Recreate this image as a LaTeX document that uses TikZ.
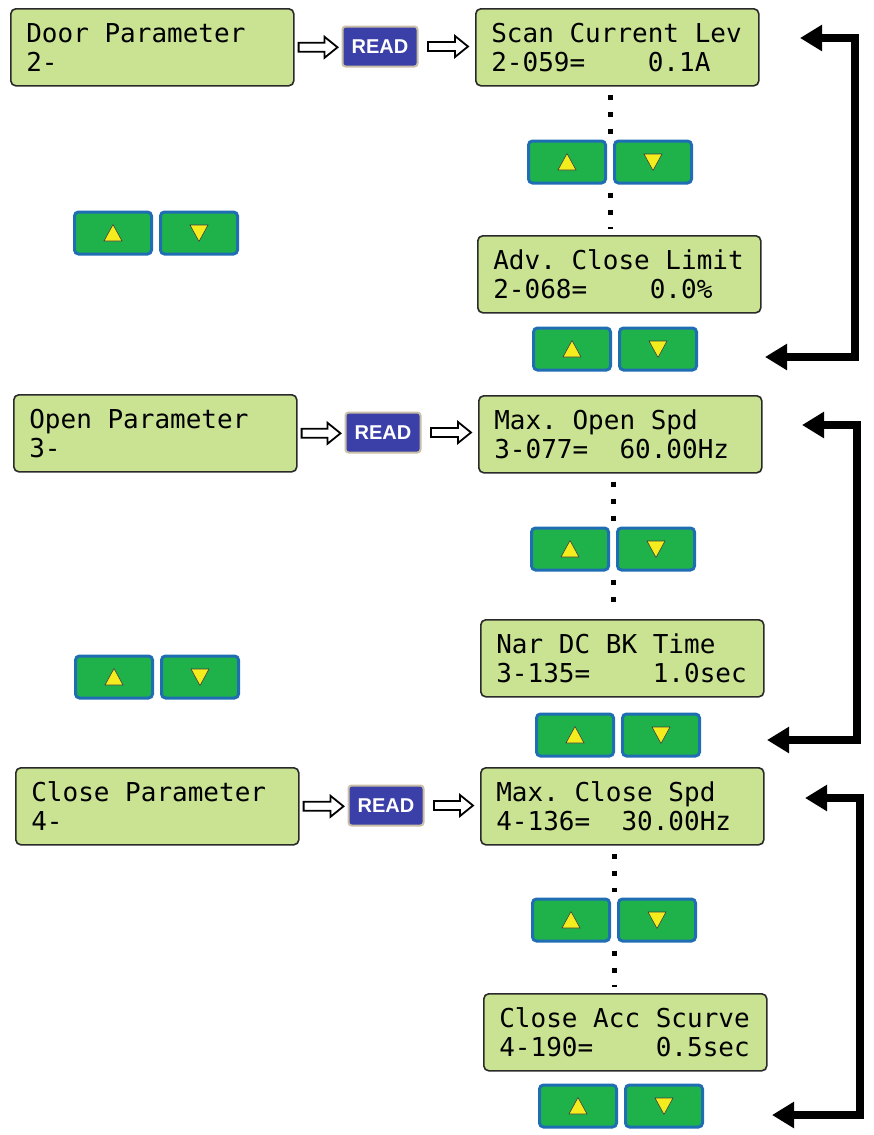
\documentclass[tikz,border=0pt]{standalone}
\usepackage{fontspec}
\usetikzlibrary{arrows.meta,calc}
\newfontfamily\lcdfont{DejaVu Sans Mono}
\newfontfamily\btnfont{Liberation Sans}
\newcommand\blank{\hphantom{0}}% one full LCD cell
\definecolor{lcdgreen}{HTML}{C9E393}
\definecolor{lcdrim}{HTML}{2A2A2A}
\definecolor{keygreen}{HTML}{1FB24B}
\definecolor{keyblue}{HTML}{1F6DB3}
\definecolor{readblue}{HTML}{3B3FA8}
\definecolor{readrim}{HTML}{C9BFA6}
\definecolor{tri}{HTML}{F5EC1E}
\tikzset{
  lcd/.style={draw=lcdrim,line width=1.6pt,fill=lcdgreen,rounded corners=5pt,
    minimum width=283pt,minimum height=77pt,text width=252pt,align=left,
    inner sep=0pt,anchor=north west,
    font=\lcdfont\fontsize{26}{29}\selectfont},
  readbtn/.style={draw=readrim,line width=2pt,fill=readblue,rounded corners=3pt,
    minimum width=75pt,minimum height=40pt,text=white,
    font=\btnfont\bfseries\fontsize{20}{20}\selectfont},
  key/.style={draw=keyblue,line width=3pt,fill=keygreen,rounded corners=4pt,
    minimum width=77pt,minimum height=42pt,inner sep=0pt},
  keyup/.style={key,path picture={\filldraw[sharp corners,fill=tri,draw=black!75,line width=0.6pt]
    ([shift={(-9pt,-8pt)}]path picture bounding box.center) -- ++(18pt,0pt) -- ++(-9pt,16.5pt) -- cycle;}},
  keydown/.style={key,path picture={\filldraw[sharp corners,fill=tri,draw=black!75,line width=0.6pt]
    ([shift={(-9pt,8pt)}]path picture bounding box.center) -- ++(18pt,0pt) -- ++(-9pt,-16.5pt) -- cycle;}},
  % outlined block arrow between two nodes, #1/#2 = gap at start/end
  hollow/.style 2 args={draw=black,fill=white,line width=1.8pt,line join=miter,
    to path={($(\tikztostart)+(#1,4.5pt)$)
      -- ($(\tikztotarget |- \tikztostart)+(-#2-13pt,4.5pt)$)
      -- ($(\tikztotarget |- \tikztostart)+(-#2-13pt,10.5pt)$)
      -- ($(\tikztotarget |- \tikztostart)+(-#2,0pt)$)
      -- ($(\tikztotarget |- \tikztostart)+(-#2-13pt,-10.5pt)$)
      -- ($(\tikztotarget |- \tikztostart)+(-#2-13pt,-4.5pt)$)
      -- ($(\tikztostart)+(#1,-4.5pt)$) -- cycle}},
  dots/.style={line width=5pt,dash pattern=on 5pt off 12pt,shorten <=8pt,shorten >=6pt},
  back/.style={line width=7.5pt,line join=miter,
    {Triangle[length=22pt,width=25pt]}-{Triangle[length=22pt,width=25pt]}}
}
\begin{document}
\begin{tikzpicture}[x=1pt,y=-1pt]
\useasboundingbox (0,0) rectangle (874,1135);

% door parameters
\node[lcd] (door) at (10,8) {Door\blank Parameter\\2-};
\node[readbtn] (read1) at (380,46.5) {READ};
\node[lcd] (scan) at (475,8) {Scan\blank Current\blank Lev\\2-059=\blank\blank\blank\blank 0.1A};
\node[lcd] (adv) at (477,235) {Adv.\blank Close\blank Limit\\2-068=\blank\blank\blank\blank 0.0\%};

% open parameters
\node[lcd] (open) at (13,394) {Open\blank Parameter\\3-};
\node[readbtn] (read2) at (383,432.5) {READ};
\node[lcd] (maxopen) at (478,395) {Max.\blank Open\blank Spd\\3-077=\blank\blank 60.00Hz};
\node[lcd] (nardc) at (480,619) {Nar\blank DC\blank BK\blank Time\\3-135=\blank\blank\blank\blank 1.0sec};

% close parameters
\node[lcd] (close) at (15,767) {Close\blank Parameter\\4-};
\node[readbtn] (read3) at (386,805.5) {READ};
\node[lcd] (maxclose) at (480,767) {Max.\blank Close\blank Spd\\4-136=\blank\blank 30.00Hz};
\node[lcd] (accs) at (483,993) {Close\blank Acc\blank Scurve\\4-190=\blank\blank\blank\blank 0.5sec};

% up/down keys
\foreach \n/\x/\y in {k1/567/162,k2/572/349,k3/113/233,
                      k4/570/549,k5/575/735,k6/114/677,
                      k7/571/920,k8/578/1106} {
  \node[keyup] (\n-up) at (\x,\y) {};
  \node[keydown] (\n-dn) at (\x+86,\y) {};
}

\draw[hollow={4pt}{4pt}] (door.east) to (read1.west);
\draw[hollow={9.5pt}{7pt}] (read1.east) to (scan.west);
\draw[hollow={4pt}{4pt}] (open.east) to (read2.west);
\draw[hollow={9.5pt}{7pt}] (read2.east) to (maxopen.west);
\draw[hollow={4pt}{4pt}] (close.east) to (read3.west);
\draw[hollow={9.5pt}{7pt}] (read3.east) to (maxclose.west);

% scrolling through the list
\foreach \k/\a/\b in {k1/scan/adv,k4/maxopen/nardc,k7/maxclose/accs} {
  \coordinate (\k-gap) at ($(\k-up.east)!0.5!(\k-dn.west)$);
  \draw[dots] (\k-gap |- \a.south) -- (\k-gap |- \k-up.north);
  \draw[dots] (\k-gap |- \k-up.south) -- (\k-gap |- \b.north);
}

% back to the first item
\coordinate (ret1a) at (800,38);  \coordinate (ret1b) at (765,357);
\coordinate (ret2a) at (802,425); \coordinate (ret2b) at (767,740);
\coordinate (ret3a) at (805,798); \coordinate (ret3b) at (772,1115);
\draw[back] (ret1a) -- ++(55,0) |- (ret1b);
\draw[back] (ret2a) -- ++(55,0) |- (ret2b);
\draw[back] (ret3a) -- ++(55,0) |- (ret3b);
\end{tikzpicture}
\end{document}
